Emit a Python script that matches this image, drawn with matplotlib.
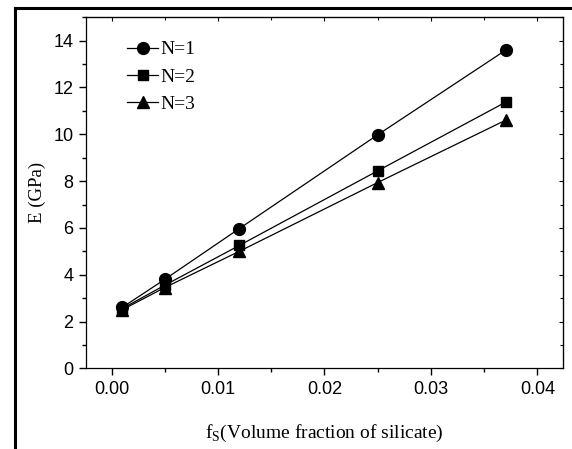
"""Young's modulus vs. silicate volume fraction for N=1..3."""
import matplotlib

matplotlib.use("Agg")
import matplotlib.pyplot as plt  # noqa: E402
from matplotlib.lines import Line2D  # noqa: E402
from matplotlib.ticker import FormatStrFormatter, MultipleLocator  # noqa: E402

f_s = [0.001, 0.005, 0.012, 0.025, 0.037]
e_n1 = [2.6, 3.8, 5.97, 9.98, 13.59]
e_n2 = [2.55, 3.55, 5.25, 8.44, 11.37]
e_n3 = [2.5, 3.45, 5.0, 7.94, 10.6]
labels = ["N=1", "N=2", "N=3"]
markers = ["o", "s", "^"]

SERIF = "Liberation Serif"
SANS = "Liberation Sans"
plt.rcParams["mathtext.fontset"] = "custom"
plt.rcParams["mathtext.rm"] = SERIF

fig = plt.figure(figsize=(5.72, 4.49), dpi=100)
ax = fig.add_axes([0.1503, 0.1797, 0.834, 0.7818])

for y, lab, m in zip([e_n1, e_n2, e_n3], labels, markers):
    ax.plot(f_s, y, color="black", lw=0.9, marker=m, ms=8.5 if m != "s" else 7.5,
            mfc="black", mec="black", label=lab)

ax.set_xlim(-0.0024, 0.0424)
ax.set_ylim(0, 15)
ax.xaxis.set_major_locator(MultipleLocator(0.01))
ax.xaxis.set_minor_locator(MultipleLocator(0.005))
ax.yaxis.set_major_locator(MultipleLocator(2))
ax.yaxis.set_minor_locator(MultipleLocator(1))
ax.xaxis.set_major_formatter(FormatStrFormatter("%.2f"))

ax.tick_params(which="both", direction="out", top=False, right=False, width=1)
ax.tick_params(which="major", length=5, labelsize=13, pad=4)
ax.tick_params(which="minor", length=3)
for lab in ax.get_xticklabels() + ax.get_yticklabels():
    lab.set_fontfamily(SANS)

# inward ticks on top/right, as in the original
sec_x = ax.secondary_xaxis("top")
sec_x.xaxis.set_major_locator(MultipleLocator(0.01))
sec_x.xaxis.set_minor_locator(MultipleLocator(0.005))
sec_x.tick_params(which="both", direction="in", labeltop=False, width=0.8)
sec_x.tick_params(which="major", length=3)
sec_x.tick_params(which="minor", length=2)
sec_y = ax.secondary_yaxis("right")
sec_y.yaxis.set_major_locator(MultipleLocator(2))
sec_y.yaxis.set_minor_locator(MultipleLocator(1))
sec_y.tick_params(which="both", direction="in", labelright=False, width=0.8)
sec_y.tick_params(which="major", length=3)
sec_y.tick_params(which="minor", length=2)
for s in ax.spines.values():
    s.set_linewidth(0.9)

ax.set_ylabel("E (GPa)", fontfamily=SERIF, fontsize=13.5, labelpad=5)
ax.set_xlabel(r"f$_\mathregular{S}$(Volume fraction of silicate)",
              fontfamily=SERIF, fontsize=14, labelpad=18)

ax.legend(loc="upper left", bbox_to_anchor=(0.07, 0.955), frameon=False,
          prop={"family": SERIF, "size": 14}, handlelength=1.6,
          handletextpad=0.1, labelspacing=0.5, borderaxespad=0)

# outer frame on left and top
fig.add_artist(Line2D([0.026, 0.026], [0, 0.983], color="black", lw=2.2,
                      transform=fig.transFigure))
fig.add_artist(Line2D([0.026, 1.0], [0.983, 0.983], color="black", lw=2.2,
                      transform=fig.transFigure))

fig.savefig("out.png", dpi=100)
